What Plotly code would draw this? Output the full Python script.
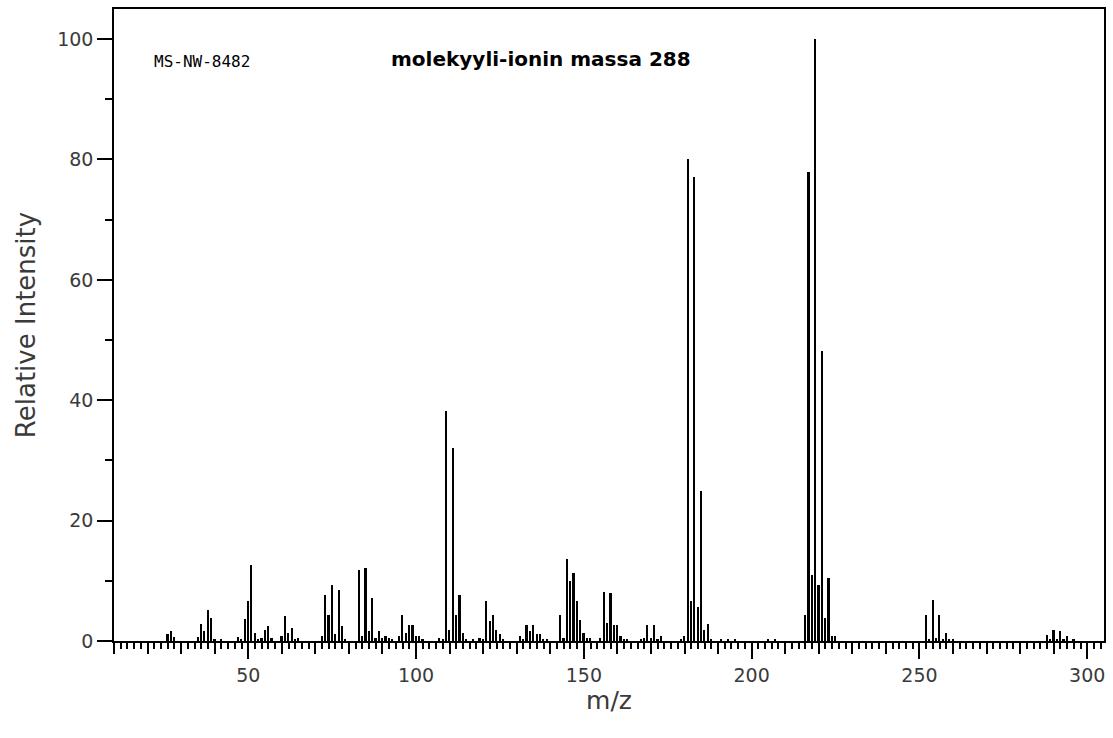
import plotly.graph_objects as go

# m/z values and relative intensities
mz = [26, 27, 28, 35, 36, 37, 38, 39, 40, 42,
      47, 48, 49, 50, 51, 52, 53, 54, 55, 56, 57,
      60, 61, 62, 63, 64, 65,
      72, 73, 74, 75, 76, 77, 78, 79,
      83, 84, 85, 86, 87, 88, 89, 90, 91, 92, 93,
      95, 96, 97, 98, 99, 100, 101, 102,
      107, 108, 109, 110, 111, 112, 113, 114, 115, 117, 119, 120,
      121, 122, 123, 124, 125, 126,
      131, 132, 133, 134, 135, 136, 137, 138, 139,
      143, 144, 145, 146, 147, 148, 149, 150, 151, 152,
      155, 156, 157, 158, 159, 160, 161, 162, 163,
      167, 168, 169, 170, 171, 172, 173,
      179, 180, 181, 182, 183, 184, 185, 186, 187, 188, 191, 193, 195,
      205, 207,
      216, 217, 218, 219, 220, 221, 222, 223, 224, 225,
      252, 253, 254, 255, 256, 257, 258, 259, 260,
      288, 289, 290, 291, 292, 293, 294, 296]

intensity = [1.2, 1.7, 0.6, 0.6, 2.8, 1.7, 5.2, 3.9, 0.3, 0.3,
             0.6, 0.3, 3.6, 6.6, 12.6, 1.4, 0.3, 0.55, 1.9, 2.5, 0.55,
             0.9, 4.1, 1.4, 2.2, 0.3, 0.55,
             0.8, 7.7, 4.4, 9.3, 1.1, 8.5, 2.5, 0.3,
             11.8, 0.8, 12.2, 1.65, 7.1, 0.55, 1.65, 0.55, 0.8, 0.55, 0.3,
             0.8, 4.4, 1.4, 2.7, 2.7, 0.8, 0.8, 0.3,
             0.55, 0.3, 38.2, 1.9, 32.1, 4.4, 7.7, 1.4, 0.3, 0.3, 0.55, 0.3,
             6.6, 3.3, 4.4, 1.9, 1.1, 0.3,
             0.8, 0.3, 2.7, 1.65, 2.7, 1.1, 1.1, 0.3, 0.3,
             4.4, 0.55, 13.6, 9.9, 11.3, 6.6, 3.5, 1.4, 0.55, 0.5,
             0.55, 8.2, 3.0, 7.9, 2.7, 2.7, 0.8, 0.3, 0.3,
             0.3, 0.55, 2.7, 0.55, 2.7, 0.3, 0.8,
             0.3, 0.8, 80.1, 6.6, 77.1, 5.7, 24.9, 1.9, 2.8, 0.3, 0.3, 0.3, 0.3,
             0.3, 0.3,
             4.4, 77.9, 11.0, 100.0, 9.3, 48.1, 3.9, 10.4, 0.8, 0.8,
             4.4, 0.2, 6.8, 0.5, 4.3, 0.2, 1.3, 0.3, 0.2,
             1.05, 0.2, 1.9, 0.3, 1.6, 0.3, 0.8, 0.2]

x_range = [10, 305]
y_range = [0, 105]
label_ticks = [50, 100, 150, 200, 250, 300]
y_ticks = [0, 20, 40, 60, 80, 100]

fig = go.Figure()
fig.add_trace(go.Bar(x=mz, y=intensity, width=0.5,
                     marker=dict(color="black", line=dict(width=0)),
                     showlegend=False, hoverinfo="x+y"))
# helper (empty) trace to activate the labelled overlay x-axis
fig.add_trace(go.Scatter(x=[None], y=[None], xaxis="x2", yaxis="y",
                         showlegend=False, hoverinfo="skip"))

label_font = dict(family="DejaVu Sans", size=19, color="#3a3a3a")

fig.update_layout(
    width=1113, height=738,
    margin=dict(l=114, r=7, t=7, b=97),
    plot_bgcolor="white", paper_bgcolor="white",
    bargap=0,
    xaxis=dict(range=x_range, showgrid=False, zeroline=False,
               showline=True, linecolor="black", linewidth=1.5, mirror=True,
               ticks="outside", tick0=10, dtick=10, ticklen=11, tickwidth=1.5,
               tickcolor="black", showticklabels=False,
               minor=dict(ticks="outside", tick0=10, dtick=2, ticklen=6,
                          tickwidth=1.5, tickcolor="black", showgrid=False),
               title=None),
    xaxis2=dict(range=x_range, overlaying="x", side="bottom", showgrid=False,
                zeroline=False, showline=False, ticks="outside",
                tickmode="array", tickvals=label_ticks,
                ticktext=[str(v) for v in label_ticks],
                ticklen=17, tickwidth=1.5, tickcolor="black",
                tickfont=label_font,
                title=dict(text="m/z", font=dict(family="DejaVu Sans", size=25, color="#3a3a3a"),
                           standoff=2)),
    yaxis=dict(range=y_range, showgrid=False, zeroline=False,
               showline=True, linecolor="black", linewidth=1.5, mirror=True,
               ticks="outside", tickmode="array", tickvals=y_ticks,
               ticklen=15, tickwidth=1.5, tickcolor="black",
               tickfont=label_font,
               minor=dict(ticks="outside", tickvals=[10, 30, 50, 70, 90],
                          ticklen=7, tickwidth=1.5, tickcolor="black", showgrid=False),
               title=dict(text="Relative Intensity",
                          font=dict(family="DejaVu Sans", size=26, color="#3a3a3a"),
                          standoff=14)),
    annotations=[
        dict(text="MS-NW-8482", xref="paper", yref="paper",
             x=(152 - 114) / 992, y=(641 - 60) / 634, xanchor="left", yanchor="middle",
             showarrow=False, font=dict(family="DejaVu Sans Mono", size=16, color="black")),
        dict(text="<b>molekyyli-ionin massa 288</b>", xref="paper", yref="paper",
             x=(390 - 114) / 992, y=(641 - 57) / 634, xanchor="left", yanchor="middle",
             showarrow=False, font=dict(family="DejaVu Sans", size=20, color="black")),
    ],
)

fig.write_html("out.html")
